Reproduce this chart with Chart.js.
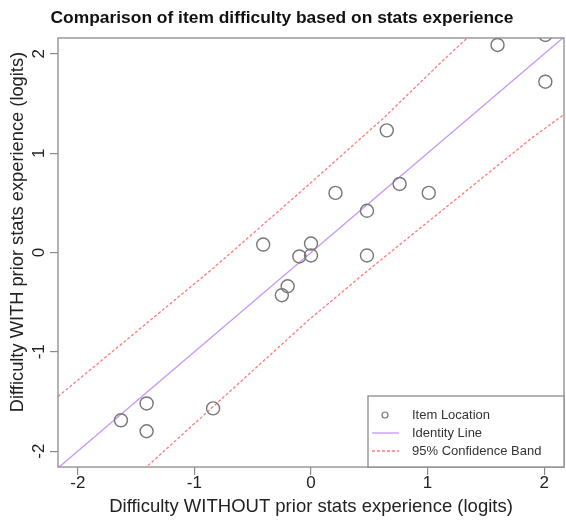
<!DOCTYPE html>
<html>
<head>
<meta charset="utf-8">
<script src="https://cdn.jsdelivr.net/npm/chart.js@4/dist/chart.umd.min.js"></script>
<style>
  html, body { margin: 0; padding: 0; background: #fff; }
  #wrap { width: 566px; height: 521px; }
</style>
</head>
<body>
<div id="wrap"><canvas id="c"></canvas></div>
<script>
// item difficulty (logits), without vs with prior stats experience
const diffWithout = [1.60, 2.01, 2.01, 0.65, 0.21, 0.76, 1.01, 0.48, 0.48, 0.00, 0.00, -0.10, -0.41, -0.20, -0.25, -1.63, -1.41, -1.41, -0.84];
const diffWith    = [2.09, 2.19, 1.72, 1.23, 0.60, 0.69, 0.60, 0.42, -0.03, 0.09, -0.03, -0.04, 0.08, -0.34, -0.43, -1.69, -1.52, -1.80, -1.57];

// 95% confidence band edges
const upperBandX = [-2.17, -0.84, -0.10, 0.61, 1.12, 1.34];
const upperBandY = [-1.45, -0.16, 0.60, 1.34, 1.92, 2.16];
const lowerBandX = [-1.43, -0.02, 0.53, 1.89, 2.17];
const lowerBandY = [-2.18, -0.68, -0.14, 1.15, 1.39];

// identity line end points
const identityX = [-2.17, 2.17];

const axisTicks = [-2, -1, 0, 1, 2];
const xRange = [-2.17, 2.17];
const yRange = [-2.16, 2.16];

const FONT = '"Liberation Sans", Arial, Helvetica, sans-serif';
const GREY = '#8a8a8a';
const PURPLE = '#c597f7';
const RED = '#ff7b7b';
const PT = '#777777';

const zip = (xs, ys) => xs.map((x, i) => ({ x, y: ys[i] }));

// box around the plotting region (R style)
const frame = {
  id: 'frame',
  afterDraw(chart) {
    const { ctx, chartArea: a } = chart;
    ctx.save();
    ctx.strokeStyle = GREY;
    ctx.lineWidth = 1.3;
    ctx.strokeRect(a.left, a.top, a.right - a.left, a.bottom - a.top);
    ctx.restore();
  }
};

// vertical axis label, sits a little above the middle of the plot
const yLabel = {
  id: 'yLabel',
  afterDraw(chart) {
    const { ctx } = chart;
    ctx.save();
    ctx.translate(17.5, 232);
    ctx.rotate(-Math.PI / 2);
    ctx.font = '18.3px ' + FONT;
    ctx.fillStyle = '#222';
    ctx.textAlign = 'center';
    ctx.textBaseline = 'middle';
    ctx.fillText('Difficulty WITH prior stats experience (logits)', 0, 0);
    ctx.restore();
  }
};

// legend box in the bottom right corner
const boxLegend = {
  id: 'boxLegend',
  afterDraw(chart) {
    const { ctx, chartArea: a } = chart;
    const w = 196, h = 71;
    const x0 = a.right - w, y0 = a.bottom - h;
    ctx.save();
    ctx.fillStyle = '#fff';
    ctx.fillRect(x0, y0, w, h);
    ctx.strokeStyle = GREY;
    ctx.lineWidth = 1.3;
    ctx.strokeRect(x0, y0, w, h);

    ctx.font = '13px ' + FONT;
    ctx.fillStyle = '#333';
    ctx.textBaseline = 'middle';
    const rows = [19, 37, 55];
    const labels = ['Item Location', 'Identity Line', '95% Confidence Band'];
    labels.forEach((t, i) => ctx.fillText(t, x0 + 44, y0 + rows[i]));

    // symbols
    ctx.strokeStyle = PT;
    ctx.lineWidth = 1.2;
    ctx.beginPath();
    ctx.arc(x0 + 17, y0 + rows[0], 3, 0, Math.PI * 2);
    ctx.stroke();

    ctx.strokeStyle = PURPLE;
    ctx.lineWidth = 1.3;
    ctx.beginPath();
    ctx.moveTo(x0 + 4, y0 + rows[1]);
    ctx.lineTo(x0 + 31, y0 + rows[1]);
    ctx.stroke();

    ctx.strokeStyle = RED;
    ctx.setLineDash([3, 2]);
    ctx.beginPath();
    ctx.moveTo(x0 + 4, y0 + rows[2]);
    ctx.lineTo(x0 + 31, y0 + rows[2]);
    ctx.stroke();
    ctx.restore();
  }
};

const fixedTicks = (scale) => { scale.ticks = axisTicks.map(v => ({ value: v })); };

new Chart(document.getElementById('c'), {
  type: 'scatter',
  data: {
    datasets: [
      {
        label: 'Item Location',
        data: zip(diffWithout, diffWith),
        pointStyle: 'circle',
        pointRadius: 6.5,
        pointHoverRadius: 6.5,
        borderColor: PT,
        borderWidth: 1.4,
        backgroundColor: 'rgba(0,0,0,0)',
        clip: 0,
        order: 0
      },
      {
        label: 'Identity Line',
        type: 'line',
        data: zip(identityX, identityX),
        borderColor: PURPLE,
        borderWidth: 1.3,
        pointRadius: 0,
        fill: false,
        order: 1
      },
      {
        label: '95% Confidence Band',
        type: 'line',
        data: zip(upperBandX, upperBandY),
        borderColor: RED,
        borderWidth: 1.3,
        borderDash: [3, 2],
        pointRadius: 0,
        fill: false,
        order: 2
      },
      {
        label: '95% Confidence Band (lower)',
        type: 'line',
        data: zip(lowerBandX, lowerBandY),
        borderColor: RED,
        borderWidth: 1.3,
        borderDash: [3, 2],
        pointRadius: 0,
        fill: false,
        order: 2
      }
    ]
  },
  options: {
    responsive: true,
    maintainAspectRatio: false,
    animation: false,
    layout: { autoPadding: false, padding: { right: 2 } },
    plugins: {
      legend: { display: false },
      tooltip: { enabled: false },
      title: {
        display: true,
        text: 'Comparison of item difficulty based on stats experience',
        color: '#111',
        font: { family: FONT, size: 17.4, weight: 'bold', lineHeight: 1.2 },
        padding: { top: 7.5, bottom: 9.6 }
      }
    },
    scales: {
      x: {
        type: 'linear',
        min: xRange[0],
        max: xRange[1],
        afterBuildTicks: fixedTicks,
        afterFit: (s) => { s.height = 54; s.paddingLeft = 0; s.paddingRight = 0; },
        grid: { drawOnChartArea: false, drawTicks: true, tickLength: 8, color: GREY, lineWidth: 1.2 },
        border: { display: false },
        ticks: { color: '#222', padding: 0, font: { family: FONT, size: 17, lineHeight: 1 } },
        title: {
          display: true,
          text: 'Difficulty WITHOUT prior stats experience (logits)',
          color: '#222',
          font: { family: FONT, size: 18.5, lineHeight: 1.2 },
          padding: { bottom: 3.2, top: 0 }
        }
      },
      y: {
        type: 'linear',
        min: yRange[0],
        max: yRange[1],
        afterBuildTicks: fixedTicks,
        afterFit: (s) => { s.width = 58; s.paddingTop = 0; s.paddingBottom = 0; },
        grid: { drawOnChartArea: false, drawTicks: true, tickLength: 8, color: GREY, lineWidth: 1.2 },
        border: { display: false },
        ticks: {
          color: '#222', padding: 3.5, minRotation: 90, maxRotation: 90, crossAlign: 'center',
          font: { family: FONT, size: 17, lineHeight: 1 }
        },
        title: { display: false }
      }
    }
  },
  plugins: [frame, yLabel, boxLegend]
});
</script>
</body>
</html>
